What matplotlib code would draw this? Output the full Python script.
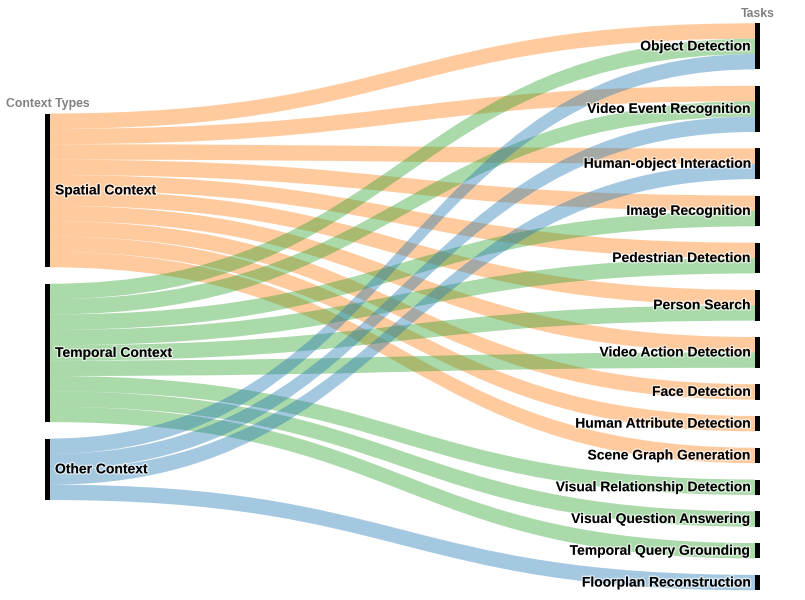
import matplotlib
matplotlib.use("Agg")
import matplotlib.pyplot as plt
import matplotlib.patheffects as pe
from matplotlib.patches import PathPatch, Rectangle
from matplotlib.path import Path
import numpy as np

# ---- data ----
source_labels = ["Spatial Context", "Temporal Context", "Other Context"]
target_labels = ["Object Detection", "Video Event Recognition", "Human-object Interaction",
                 "Image Recognition", "Pedestrian Detection", "Person Search",
                 "Video Action Detection", "Face Detection", "Human Attribute Detection",
                 "Scene Graph Generation", "Visual Relationship Detection",
                 "Visual Question Answering", "Temporal Query Grounding",
                 "Floorplan Reconstruction"]
link_source = [0, 0, 0, 0, 0, 0, 0, 0, 0, 0,
               1, 1, 1, 1, 1, 1, 1, 1, 1,
               2, 2, 2, 2]
link_target = [0, 1, 2, 3, 4, 5, 6, 7, 8, 9,
               0, 1, 3, 4, 5, 6, 10, 11, 12,
               0, 1, 2, 13]
link_value = [1] * 23
source_colors = ["#ff7f0e", "#2ca02c", "#1f77b4"]
left_title = "Context Types"
right_title = "Tasks"

# ---- layout ----
W, H = 805, 600
fig = plt.figure(figsize=(W / 100, H / 100), dpi=100)
ax = fig.add_axes([0, 0, 1, 1])
ax.set_xlim(0, W)
ax.set_ylim(H, 0)
ax.axis("off")

unit = 15.38
gap = 16.4
top = 23.3
xl0, xl1 = 45, 50
xr0, xr1 = 755, 760

src_tot = [sum(v for s, v in zip(link_source, link_value) if s == i) for i in range(len(source_labels))]
tgt_tot = [sum(v for t, v in zip(link_target, link_value) if t == i) for i in range(len(target_labels))]

right_h = sum(tgt_tot) * unit + (len(target_labels) - 1) * gap
left_h = sum(src_tot) * unit + (len(source_labels) - 1) * gap
ltop = top + (right_h - left_h) / 2

src_y = []
y = ltop
for t in src_tot:
    src_y.append(y)
    y += t * unit + gap
tgt_y = []
y = top
for t in tgt_tot:
    tgt_y.append(y)
    y += t * unit + gap

# links: source offsets in target order, target offsets in source order
src_off = list(src_y)
tgt_off = list(tgt_y)
src_pos = {}
for k in sorted(range(len(link_value)), key=lambda k: (link_source[k], tgt_y[link_target[k]])):
    s = link_source[k]
    src_pos[k] = src_off[s]
    src_off[s] += link_value[k] * unit
tgt_pos = {}
for k in sorted(range(len(link_value)), key=lambda k: (link_target[k], src_y[link_source[k]])):
    t = link_target[k]
    tgt_pos[k] = tgt_off[t]
    tgt_off[t] += link_value[k] * unit

xm = (xl1 + xr0) / 2
for k in range(len(link_value)):
    h = link_value[k] * unit
    y0 = src_pos[k]
    y1 = tgt_pos[k]
    verts = [(xl1, y0), (xm, y0), (xm, y1), (xr0, y1),
             (xr0, y1 + h), (xm, y1 + h), (xm, y0 + h), (xl1, y0 + h), (xl1, y0)]
    codes = [Path.MOVETO, Path.CURVE4, Path.CURVE4, Path.CURVE4,
             Path.LINETO, Path.CURVE4, Path.CURVE4, Path.CURVE4, Path.CLOSEPOLY]
    ax.add_patch(PathPatch(Path(verts, codes), facecolor=source_colors[link_source[k]],
                           alpha=0.4, edgecolor="none", lw=0, zorder=1))

font = "Liberation Sans"
halo = [pe.withStroke(linewidth=2, foreground=(1, 1, 1, 0.6))]
fs = 10
for i, lab in enumerate(source_labels):
    h = src_tot[i] * unit
    ax.add_patch(Rectangle((xl0, src_y[i]), xl1 - xl0, h, facecolor="black", edgecolor="none", zorder=3))
    ax.text(xl1 + 5, src_y[i] + h / 2, lab, ha="left", va="center", fontsize=fs,
            fontweight="bold", family=font, color="black", zorder=4, path_effects=halo)
for i, lab in enumerate(target_labels):
    h = tgt_tot[i] * unit
    ax.add_patch(Rectangle((xr0, tgt_y[i]), xr1 - xr0, h, facecolor="black", edgecolor="none", zorder=3))
    ax.text(xr0 - 4.5, tgt_y[i] + h / 2, lab, ha="right", va="center", fontsize=fs,
            fontweight="bold", family=font, color="black", zorder=4, path_effects=halo)

ax.text((xl0 + xl1) / 2, ltop - 10, left_title, ha="center", va="center", fontsize=8.8,
        fontweight="bold", family=font, color="#808080")
ax.text((xr0 + xr1) / 2, top - 9.5, right_title, ha="center", va="center", fontsize=8.8,
        fontweight="bold", family=font, color="#808080")

fig.savefig("out.png", dpi=100)
